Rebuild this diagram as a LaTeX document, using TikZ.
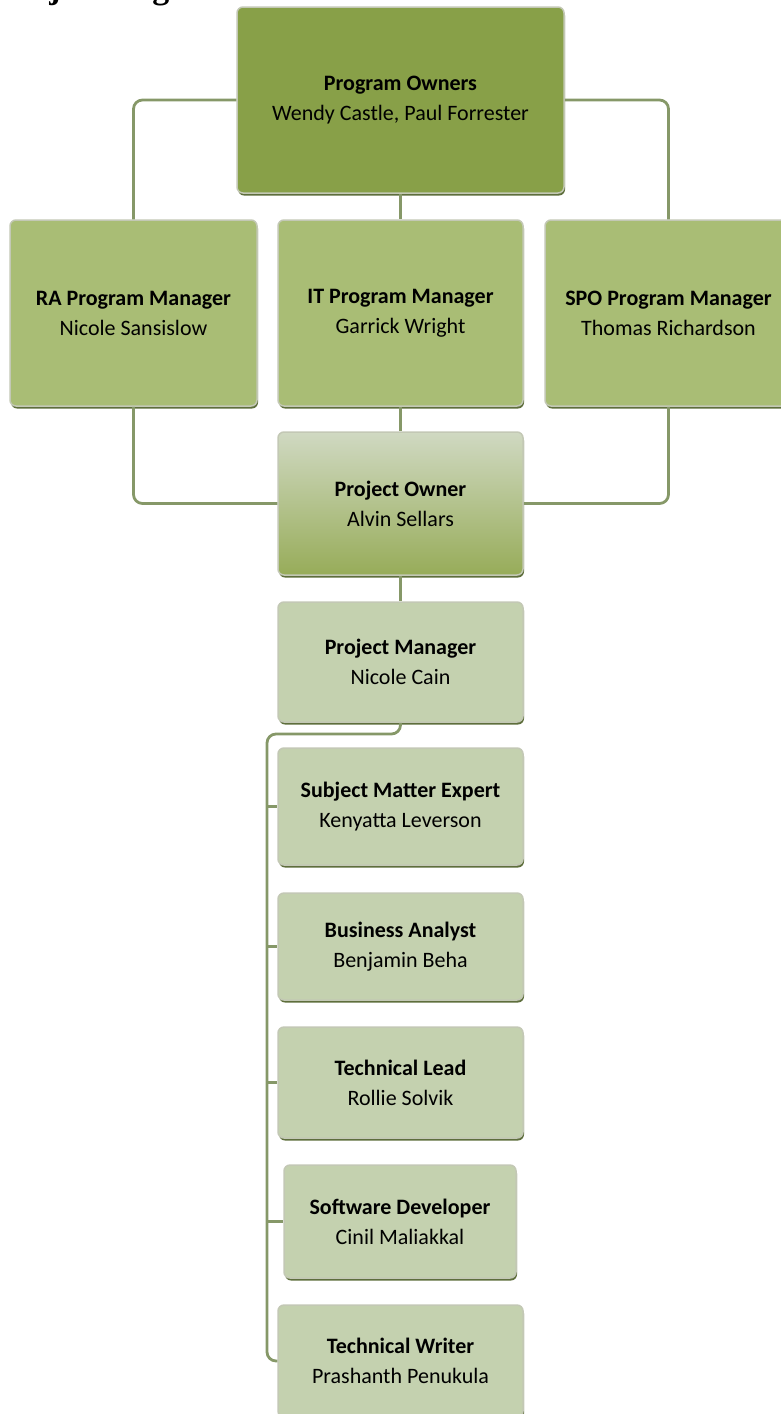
\documentclass[tikz,border=0pt]{standalone}
\usepackage{fontspec}
\setmainfont{Carlito}
\newfontfamily\titlefont{Liberation Serif}
\usetikzlibrary{shadows}
\definecolor{podark}{HTML}{88A048}
\definecolor{mgr}{HTML}{A9BD75}
\definecolor{sub}{HTML}{C4D1AF}
\definecolor{ownTop}{HTML}{D0D9C2}
\definecolor{ownBot}{HTML}{97AC59}
\definecolor{edge}{HTML}{C3C8B5}
\definecolor{shadowc}{HTML}{5E6E3C}
\definecolor{connc}{HTML}{869868}
\tikzset{
  box/.style={rounded corners=6pt, draw=edge, line width=1.5pt, align=center,
    inner sep=0pt, font=\fontsize{22}{30}\selectfont, text=black,
    drop shadow={shadow xshift=1pt, shadow yshift=-2.5pt, fill=shadowc, opacity=1}},
  conn/.style={draw=connc, line width=2.8pt, rounded corners=9pt},
}
\begin{document}
\begin{tikzpicture}[x=1pt,y=-1pt]
\useasboundingbox (0,0) rectangle (781,1414);
\node[anchor=base west, inner sep=0pt, font=\titlefont\bfseries\fontsize{34}{34}\selectfont] (title) at (-3,-1.5) {Project Organization Chart};

\coordinate (po0) at (400.5,100);
\coordinate (ra0) at (133.5,313);
\coordinate (it0) at (400.5,313);
\coordinate (spo0) at (668.5,313);
\coordinate (pown0) at (400.5,503.5);

\node[box, fill=podark, minimum width=327pt, minimum height=186pt] (po) at (po0)
  {\textbf{Program Owners}\\Wendy Castle, Paul Forrester};
\node[box, fill=mgr, minimum width=247pt, minimum height=186pt] (ra) at (ra0)
  {\textbf{RA Program Manager}\\Nicole Sansislow};
\node[box, fill=mgr, minimum width=245pt, minimum height=186pt] (it) at (it0)
  {\textbf{IT Program Manager}\\Garrick Wright};
\node[box, fill=mgr, minimum width=247pt, minimum height=186pt] (spo) at (spo0)
  {\textbf{SPO Program Manager}\\Thomas Richardson};
\node[box, top color=ownTop, bottom color=ownBot, minimum width=245pt, minimum height=143pt] (pown) at (pown0)
  {\textbf{Project Owner}\\Alvin Sellars};
\node[box, fill=sub, minimum width=245pt, minimum height=120pt] (pm) at (400.5,662)
  {\textbf{Project Manager}\\Nicole Cain};
\node[box, fill=sub, minimum width=245pt, minimum height=117pt] (sme) at (400.5,806.5)
  {\textbf{Subject Matter Expert}\\Kenyatta Leverson};
\node[box, fill=sub, minimum width=245pt, minimum height=107pt] (ba) at (400.5,946.5)
  {\textbf{Business Analyst}\\Benjamin Beha};
\node[box, fill=sub, minimum width=245pt, minimum height=111pt] (tl) at (400.5,1082.5)
  {\textbf{Technical Lead}\\Rollie Solvik};
\node[box, fill=sub, minimum width=232pt, minimum height=113pt] (sd) at (400,1221.5)
  {\textbf{Software Developer}\\Cinil Maliakkal};
\node[box, fill=sub, minimum width=245pt, minimum height=112pt] (tw) at (400.5,1361)
  {\textbf{Technical Writer}\\Prashanth Penukula};

\coordinate (bus) at (267,734);

\draw[conn] (po.west) -| (ra.north);
\draw[conn] (po.east) -| (spo.north);
\draw[conn] (po.south) -- (it.north);
\draw[conn] (ra.south) |- (pown.west);
\draw[conn] (spo.south) |- (pown.east);
\draw[conn] (it.south) -- (pown.north);
\draw[conn] (pown.south) -- (pm.north);
\draw[conn] (pm.south) |- (bus) -- (bus |- tw.west) -- (tw.west);
\draw[conn] (bus |- sme.west) -- (sme.west);
\draw[conn] (bus |- ba.west) -- (ba.west);
\draw[conn] (bus |- tl.west) -- (tl.west);
\draw[conn] (bus |- sd.west) -- (sd.west);
\end{tikzpicture}
\end{document}
